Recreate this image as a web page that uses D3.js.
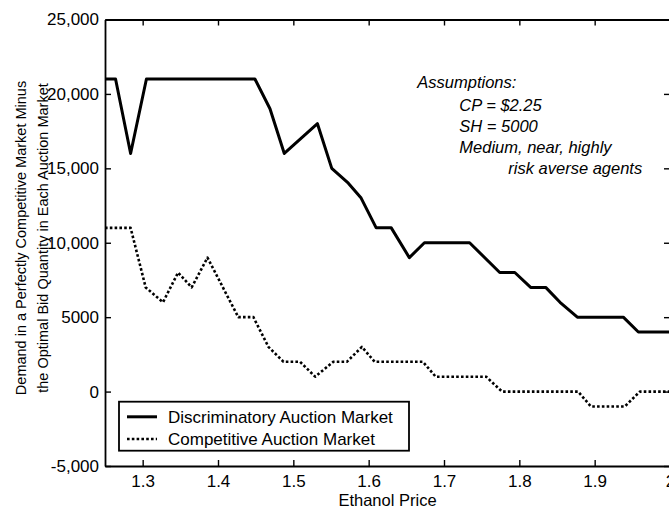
<!DOCTYPE html>
<html>
<head>
<meta charset="utf-8">
<script src="https://cdn.jsdelivr.net/npm/d3@7/dist/d3.min.js"></script>
<style>
  html, body { margin: 0; padding: 0; background: #fff; }
  svg { display: block; font-family: "Liberation Sans", Arial, Helvetica, sans-serif; }
</style>
</head>
<body>
<svg id="chart" width="669" height="509"></svg>
<script>
// Discriminatory auction market: ethanol price vs. demand difference
const discPrice = [1.25, 1.264, 1.284, 1.305, 1.449, 1.469, 1.488, 1.532, 1.551, 1.573, 1.59, 1.61, 1.63, 1.654, 1.674, 1.734, 1.774, 1.794, 1.815, 1.835, 1.854, 1.877, 1.938, 1.958, 2.0];
const discValue = [21000, 21000, 16000, 21000, 21000, 19000, 16000, 18000, 15000, 14000, 13000, 11000, 11000, 9000, 10000, 10000, 8000, 8000, 7000, 7000, 6000, 5000, 5000, 4000, 4000];

// Competitive auction market
const compPrice = [1.25, 1.284, 1.304, 1.327, 1.347, 1.365, 1.386, 1.427, 1.447, 1.467, 1.487, 1.509, 1.529, 1.553, 1.571, 1.591, 1.608, 1.672, 1.689, 1.756, 1.777, 1.878, 1.895, 1.94, 1.96, 2.0];
const compValue = [11000, 11000, 7000, 6000, 8000, 7000, 9000, 5000, 5000, 3000, 2000, 2000, 1000, 2000, 2000, 3000, 2000, 2000, 1000, 1000, 0, 0, -1000, -1000, 0, 0];

const xTicks = [1.3, 1.4, 1.5, 1.6, 1.7, 1.8, 1.9, 2.0];
const xTickLabels = ["1.3", "1.4", "1.5", "1.6", "1.7", "1.8", "1.9", "2"];
const yTicks = [-5000, 0, 5000, 10000, 15000, 20000, 25000];
const yTickLabels = ["-5,000", "0", "5000", "10,000", "15,000", "20,000", "25,000"];

const seriesNames = ["Discriminatory Auction Market", "Competitive Auction Market"];
const assumptions = ["Assumptions:", "CP = $2.25", "SH = 5000", "Medium, near, highly", "risk averse agents"];

const plotLeft = 105, plotRight = 670, plotTop = 19.5, plotBottom = 466;

const x = d3.scaleLinear().domain([1.25, 2.0]).range([plotLeft, plotRight]);
const y = d3.scaleLinear().domain([-5000, 25000]).range([plotBottom, plotTop]);

const svg = d3.select("#chart");

svg.append("defs").append("clipPath").attr("id", "plotClip")
  .append("rect").attr("x", plotLeft).attr("y", plotTop)
  .attr("width", plotRight - plotLeft).attr("height", plotBottom - plotTop);

const fmtX = d => xTickLabels[xTicks.indexOf(d)];
const fmtY = d => yTickLabels[yTicks.indexOf(d)];

// Axes: ticks point inward on all four sides
const axisBottom = d3.axisBottom(x).tickValues(xTicks).tickFormat(fmtX).tickSizeInner(-6).tickSizeOuter(0).tickPadding(9);
const axisTop = d3.axisTop(x).tickValues(xTicks).tickFormat("").tickSizeInner(-6).tickSizeOuter(0);
const axisLeft = d3.axisLeft(y).tickValues(yTicks).tickFormat(fmtY).tickSizeInner(-6).tickSizeOuter(0).tickPadding(6);
const axisRight = d3.axisRight(y).tickValues(yTicks).tickFormat("").tickSizeInner(-6).tickSizeOuter(0);

function styleAxis(g) {
  g.select(".domain").attr("stroke", "#000").attr("stroke-width", 1.8);
  g.selectAll(".tick line").attr("stroke", "#000").attr("stroke-width", 1.4);
  g.selectAll(".tick text").attr("fill", "#000").attr("font-size", 17);
  g.attr("font-family", null);
}

svg.append("g").attr("transform", `translate(0,${plotBottom})`).call(axisBottom).call(styleAxis);
svg.append("g").attr("transform", `translate(0,${plotTop})`).call(axisTop).call(styleAxis);
svg.append("g").attr("transform", `translate(${plotLeft},0)`).call(axisLeft).call(styleAxis);
svg.append("g").attr("transform", `translate(${plotRight},0)`).call(axisRight).call(styleAxis);

// Series lines
const line = d3.line().x(d => x(d[0])).y(d => y(d[1]));
const discData = discPrice.map((p, i) => [p, discValue[i]]);
const compData = compPrice.map((p, i) => [p, compValue[i]]);

const plot = svg.append("g").attr("clip-path", "url(#plotClip)");
plot.append("path").datum(compData).attr("d", line)
  .attr("fill", "none").attr("stroke", "#000").attr("stroke-width", 2.6)
  .attr("stroke-dasharray", "2.6,2.2").attr("stroke-linejoin", "round");
plot.append("path").datum(discData).attr("d", line)
  .attr("fill", "none").attr("stroke", "#000").attr("stroke-width", 3).attr("stroke-linejoin", "round");

// Axis titles
svg.append("text").attr("x", 387.5).attr("y", 505.5).attr("text-anchor", "middle")
  .attr("font-size", 16.5).text("Ethanol Price");

const yTitle = svg.append("text").attr("transform", "translate(0,238) rotate(-90)")
  .attr("text-anchor", "middle").attr("font-size", 14.5);
yTitle.append("tspan").attr("x", 0).attr("y", 26).text("Demand in a Perfectly Competitive Market Minus");
yTitle.append("tspan").attr("x", 0).attr("y", 47.5).text("the Optimal Bid Quantity in Each Auction Market");

// Assumptions note
const note = svg.append("g").attr("font-size", 16.5).attr("font-style", "italic");
const noteX = [417.3, 459.3, 459.3, 459.3, 508.3];
const noteY = [88.3, 110.5, 131.5, 152.5, 174];
assumptions.forEach((t, i) => {
  note.append("text").attr("x", noteX[i]).attr("y", noteY[i]).text(t);
});

// Legend
const legend = svg.append("g");
legend.append("rect").attr("x", 119).attr("y", 401.7).attr("width", 290).attr("height", 49)
  .attr("fill", "#fff").attr("stroke", "#000").attr("stroke-width", 1.8);
const legendY = [416.8, 439];
legend.append("line").attr("x1", 127).attr("x2", 157).attr("y1", legendY[0]).attr("y2", legendY[0])
  .attr("stroke", "#000").attr("stroke-width", 3);
legend.append("line").attr("x1", 127).attr("x2", 157).attr("y1", legendY[1]).attr("y2", legendY[1])
  .attr("stroke", "#000").attr("stroke-width", 2.6).attr("stroke-dasharray", "2.6,2.2");
seriesNames.forEach((name, i) => {
  legend.append("text").attr("x", 168).attr("y", legendY[i] + 6.3).attr("font-size", 17).text(name);
});
</script>
</body>
</html>
